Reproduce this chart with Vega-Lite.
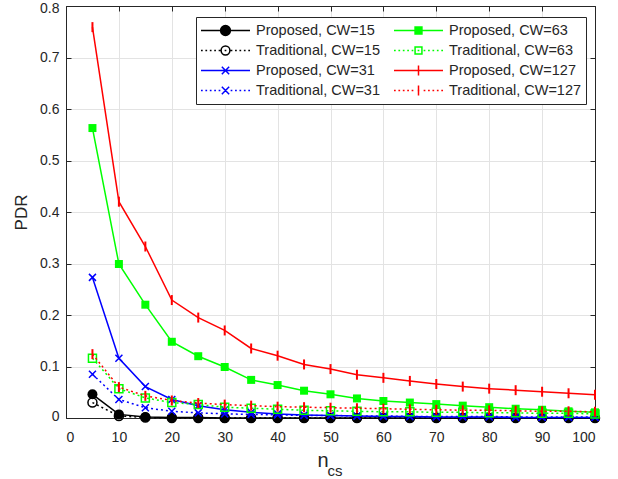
{
  "$schema": "https://vega.github.io/schema/vega-lite/v6.json",
  "width": 529,
  "height": 412,
  "autosize": {"type": "none"},
  "padding": {"left": 66, "top": 6, "right": 23, "bottom": 61},
  "background": "white",
  "config": {
    "view": {"stroke": "#262626", "strokeWidth": 1},
    "font": "Liberation Sans",
    "axis": {"labelFont": "Liberation Sans", "titleFont": "Liberation Sans", "labelColor": "#262626", "titleColor": "#262626", "domainColor": "#262626", "tickColor": "#262626", "titleFontWeight": "normal"}
  },
  "data": {"values": [
    {"n":5,"pdr":0.046,"s":"Proposed, CW=15"},{"n":10,"pdr":0.007,"s":"Proposed, CW=15"},{"n":15,"pdr":0.002,"s":"Proposed, CW=15"},{"n":20,"pdr":0.001,"s":"Proposed, CW=15"},{"n":25,"pdr":0.001,"s":"Proposed, CW=15"},{"n":30,"pdr":0,"s":"Proposed, CW=15"},{"n":35,"pdr":0,"s":"Proposed, CW=15"},{"n":40,"pdr":0,"s":"Proposed, CW=15"},{"n":45,"pdr":0,"s":"Proposed, CW=15"},{"n":50,"pdr":0,"s":"Proposed, CW=15"},{"n":55,"pdr":0,"s":"Proposed, CW=15"},{"n":60,"pdr":0,"s":"Proposed, CW=15"},{"n":65,"pdr":0,"s":"Proposed, CW=15"},{"n":70,"pdr":0,"s":"Proposed, CW=15"},{"n":75,"pdr":0,"s":"Proposed, CW=15"},{"n":80,"pdr":0,"s":"Proposed, CW=15"},{"n":85,"pdr":0,"s":"Proposed, CW=15"},{"n":90,"pdr":0,"s":"Proposed, CW=15"},{"n":95,"pdr":0,"s":"Proposed, CW=15"},{"n":100,"pdr":0,"s":"Proposed, CW=15"},
    {"n":5,"pdr":0.03,"s":"Traditional, CW=15"},{"n":10,"pdr":0.004,"s":"Traditional, CW=15"},{"n":15,"pdr":0.001,"s":"Traditional, CW=15"},{"n":20,"pdr":0,"s":"Traditional, CW=15"},{"n":25,"pdr":0,"s":"Traditional, CW=15"},{"n":30,"pdr":0,"s":"Traditional, CW=15"},{"n":35,"pdr":0,"s":"Traditional, CW=15"},{"n":40,"pdr":0,"s":"Traditional, CW=15"},{"n":45,"pdr":0,"s":"Traditional, CW=15"},{"n":50,"pdr":0,"s":"Traditional, CW=15"},{"n":55,"pdr":0,"s":"Traditional, CW=15"},{"n":60,"pdr":0,"s":"Traditional, CW=15"},{"n":65,"pdr":0,"s":"Traditional, CW=15"},{"n":70,"pdr":0,"s":"Traditional, CW=15"},{"n":75,"pdr":0,"s":"Traditional, CW=15"},{"n":80,"pdr":0,"s":"Traditional, CW=15"},{"n":85,"pdr":0,"s":"Traditional, CW=15"},{"n":90,"pdr":0,"s":"Traditional, CW=15"},{"n":95,"pdr":0,"s":"Traditional, CW=15"},{"n":100,"pdr":0,"s":"Traditional, CW=15"},
    {"n":5,"pdr":0.273,"s":"Proposed, CW=31"},{"n":10,"pdr":0.116,"s":"Proposed, CW=31"},{"n":15,"pdr":0.061,"s":"Proposed, CW=31"},{"n":20,"pdr":0.036,"s":"Proposed, CW=31"},{"n":25,"pdr":0.024,"s":"Proposed, CW=31"},{"n":30,"pdr":0.016,"s":"Proposed, CW=31"},{"n":35,"pdr":0.011,"s":"Proposed, CW=31"},{"n":40,"pdr":0.008,"s":"Proposed, CW=31"},{"n":45,"pdr":0.006,"s":"Proposed, CW=31"},{"n":50,"pdr":0.005,"s":"Proposed, CW=31"},{"n":55,"pdr":0.004,"s":"Proposed, CW=31"},{"n":60,"pdr":0.003,"s":"Proposed, CW=31"},{"n":65,"pdr":0.003,"s":"Proposed, CW=31"},{"n":70,"pdr":0.002,"s":"Proposed, CW=31"},{"n":75,"pdr":0.002,"s":"Proposed, CW=31"},{"n":80,"pdr":0.002,"s":"Proposed, CW=31"},{"n":85,"pdr":0.001,"s":"Proposed, CW=31"},{"n":90,"pdr":0.001,"s":"Proposed, CW=31"},{"n":95,"pdr":0.001,"s":"Proposed, CW=31"},{"n":100,"pdr":0.001,"s":"Proposed, CW=31"},
    {"n":5,"pdr":0.085,"s":"Traditional, CW=31"},{"n":10,"pdr":0.036,"s":"Traditional, CW=31"},{"n":15,"pdr":0.02,"s":"Traditional, CW=31"},{"n":20,"pdr":0.013,"s":"Traditional, CW=31"},{"n":25,"pdr":0.01,"s":"Traditional, CW=31"},{"n":30,"pdr":0.008,"s":"Traditional, CW=31"},{"n":35,"pdr":0.007,"s":"Traditional, CW=31"},{"n":40,"pdr":0.006,"s":"Traditional, CW=31"},{"n":45,"pdr":0.005,"s":"Traditional, CW=31"},{"n":50,"pdr":0.005,"s":"Traditional, CW=31"},{"n":55,"pdr":0.004,"s":"Traditional, CW=31"},{"n":60,"pdr":0.004,"s":"Traditional, CW=31"},{"n":65,"pdr":0.003,"s":"Traditional, CW=31"},{"n":70,"pdr":0.003,"s":"Traditional, CW=31"},{"n":75,"pdr":0.003,"s":"Traditional, CW=31"},{"n":80,"pdr":0.003,"s":"Traditional, CW=31"},{"n":85,"pdr":0.002,"s":"Traditional, CW=31"},{"n":90,"pdr":0.002,"s":"Traditional, CW=31"},{"n":95,"pdr":0.002,"s":"Traditional, CW=31"},{"n":100,"pdr":0.002,"s":"Traditional, CW=31"},
    {"n":5,"pdr":0.563,"s":"Proposed, CW=63"},{"n":10,"pdr":0.299,"s":"Proposed, CW=63"},{"n":15,"pdr":0.22,"s":"Proposed, CW=63"},{"n":20,"pdr":0.148,"s":"Proposed, CW=63"},{"n":25,"pdr":0.12,"s":"Proposed, CW=63"},{"n":30,"pdr":0.099,"s":"Proposed, CW=63"},{"n":35,"pdr":0.074,"s":"Proposed, CW=63"},{"n":40,"pdr":0.064,"s":"Proposed, CW=63"},{"n":45,"pdr":0.053,"s":"Proposed, CW=63"},{"n":50,"pdr":0.046,"s":"Proposed, CW=63"},{"n":55,"pdr":0.038,"s":"Proposed, CW=63"},{"n":60,"pdr":0.033,"s":"Proposed, CW=63"},{"n":65,"pdr":0.03,"s":"Proposed, CW=63"},{"n":70,"pdr":0.027,"s":"Proposed, CW=63"},{"n":75,"pdr":0.024,"s":"Proposed, CW=63"},{"n":80,"pdr":0.021,"s":"Proposed, CW=63"},{"n":85,"pdr":0.018,"s":"Proposed, CW=63"},{"n":90,"pdr":0.016,"s":"Proposed, CW=63"},{"n":95,"pdr":0.013,"s":"Proposed, CW=63"},{"n":100,"pdr":0.011,"s":"Proposed, CW=63"},
    {"n":5,"pdr":0.116,"s":"Traditional, CW=63"},{"n":10,"pdr":0.057,"s":"Traditional, CW=63"},{"n":15,"pdr":0.039,"s":"Traditional, CW=63"},{"n":20,"pdr":0.03,"s":"Traditional, CW=63"},{"n":25,"pdr":0.026,"s":"Traditional, CW=63"},{"n":30,"pdr":0.021,"s":"Traditional, CW=63"},{"n":35,"pdr":0.019,"s":"Traditional, CW=63"},{"n":40,"pdr":0.017,"s":"Traditional, CW=63"},{"n":45,"pdr":0.015,"s":"Traditional, CW=63"},{"n":50,"pdr":0.014,"s":"Traditional, CW=63"},{"n":55,"pdr":0.013,"s":"Traditional, CW=63"},{"n":60,"pdr":0.012,"s":"Traditional, CW=63"},{"n":65,"pdr":0.012,"s":"Traditional, CW=63"},{"n":70,"pdr":0.011,"s":"Traditional, CW=63"},{"n":75,"pdr":0.011,"s":"Traditional, CW=63"},{"n":80,"pdr":0.01,"s":"Traditional, CW=63"},{"n":85,"pdr":0.01,"s":"Traditional, CW=63"},{"n":90,"pdr":0.009,"s":"Traditional, CW=63"},{"n":95,"pdr":0.009,"s":"Traditional, CW=63"},{"n":100,"pdr":0.008,"s":"Traditional, CW=63"},
    {"n":5,"pdr":0.759,"s":"Proposed, CW=127"},{"n":10,"pdr":0.42,"s":"Proposed, CW=127"},{"n":15,"pdr":0.333,"s":"Proposed, CW=127"},{"n":20,"pdr":0.229,"s":"Proposed, CW=127"},{"n":25,"pdr":0.195,"s":"Proposed, CW=127"},{"n":30,"pdr":0.17,"s":"Proposed, CW=127"},{"n":35,"pdr":0.135,"s":"Proposed, CW=127"},{"n":40,"pdr":0.121,"s":"Proposed, CW=127"},{"n":45,"pdr":0.104,"s":"Proposed, CW=127"},{"n":50,"pdr":0.095,"s":"Proposed, CW=127"},{"n":55,"pdr":0.084,"s":"Proposed, CW=127"},{"n":60,"pdr":0.078,"s":"Proposed, CW=127"},{"n":65,"pdr":0.072,"s":"Proposed, CW=127"},{"n":70,"pdr":0.066,"s":"Proposed, CW=127"},{"n":75,"pdr":0.061,"s":"Proposed, CW=127"},{"n":80,"pdr":0.057,"s":"Proposed, CW=127"},{"n":85,"pdr":0.054,"s":"Proposed, CW=127"},{"n":90,"pdr":0.051,"s":"Proposed, CW=127"},{"n":95,"pdr":0.048,"s":"Proposed, CW=127"},{"n":100,"pdr":0.045,"s":"Proposed, CW=127"},
    {"n":5,"pdr":0.124,"s":"Traditional, CW=127"},{"n":10,"pdr":0.06,"s":"Traditional, CW=127"},{"n":15,"pdr":0.043,"s":"Traditional, CW=127"},{"n":20,"pdr":0.034,"s":"Traditional, CW=127"},{"n":25,"pdr":0.029,"s":"Traditional, CW=127"},{"n":30,"pdr":0.026,"s":"Traditional, CW=127"},{"n":35,"pdr":0.024,"s":"Traditional, CW=127"},{"n":40,"pdr":0.022,"s":"Traditional, CW=127"},{"n":45,"pdr":0.021,"s":"Traditional, CW=127"},{"n":50,"pdr":0.02,"s":"Traditional, CW=127"},{"n":55,"pdr":0.019,"s":"Traditional, CW=127"},{"n":60,"pdr":0.018,"s":"Traditional, CW=127"},{"n":65,"pdr":0.017,"s":"Traditional, CW=127"},{"n":70,"pdr":0.016,"s":"Traditional, CW=127"},{"n":75,"pdr":0.015,"s":"Traditional, CW=127"},{"n":80,"pdr":0.015,"s":"Traditional, CW=127"},{"n":85,"pdr":0.014,"s":"Traditional, CW=127"},{"n":90,"pdr":0.013,"s":"Traditional, CW=127"},{"n":95,"pdr":0.013,"s":"Traditional, CW=127"},{"n":100,"pdr":0.012,"s":"Traditional, CW=127"}
  ]},
  "encoding": {
    "x": {"field": "n", "type": "quantitative", "scale": {"domain": [0, 100], "nice": false}, "axis": null},
    "y": {"field": "pdr", "type": "quantitative", "scale": {"domain": [0, 0.8], "nice": false}, "axis": null}
  },
  "resolve": {"axis": {"x": "independent", "y": "independent"}},
  "layer": [
    {
      "transform": [{"filter": "datum.s === 'Proposed, CW=15'"}],
      "mark": {"type": "line", "color": "#000000", "strokeWidth": 1.5},
      "encoding": {
        "x": {"field": "n", "type": "quantitative", "scale": {"domain": [0, 100], "nice": false},
          "axis": {"orient": "bottom", "values": [0,10,20,30,40,50,60,70,80,90,100], "grid": true, "gridColor": "#e3e3e3", "gridWidth": 1, "tickSize": -5, "labelPadding": 17, "labelFontSize": 14, "domainWidth": 1, "title": "n", "titleFontSize": 20, "titleX": 256.5, "titleY": 48.7, "titleAlign": "center", "titleBaseline": "alphabetic"}},
        "y": {"field": "pdr", "type": "quantitative", "scale": {"domain": [0, 0.8], "nice": false},
          "axis": {"orient": "left", "values": [0,0.1,0.2,0.3,0.4,0.5,0.6,0.7,0.8], "format": "~g", "grid": true, "gridColor": "#e3e3e3", "gridWidth": 1, "tickSize": -5, "labelPadding": 12, "labelFontSize": 14, "labelFlush": true, "labelFlushOffset": 5, "domainWidth": 1, "title": "PDR", "titleFontSize": 17, "titleX": -40, "titleY": 206, "titleAngle": -90, "titleAlign": "center", "titleBaseline": "alphabetic"}}
      }
    },
    {"transform": [{"filter": "datum.s === 'Proposed, CW=15'"}], "mark": {"type": "point", "shape": "circle", "filled": true, "color": "#000000", "size": 100, "opacity": 1}},
    {"transform": [{"filter": "datum.s === 'Traditional, CW=15'"}], "mark": {"type": "line", "color": "#000000", "strokeWidth": 1.5, "strokeDash": [2, 3]}},
    {"transform": [{"filter": "datum.s === 'Traditional, CW=15'"}], "mark": {"type": "point", "shape": "circle", "filled": false, "color": "#000000", "size": 81, "strokeWidth": 1.5, "opacity": 1}},
    {"transform": [{"filter": "datum.s === 'Proposed, CW=31'"}], "mark": {"type": "line", "color": "#0000ff", "strokeWidth": 1.5}},
    {"transform": [{"filter": "datum.s === 'Traditional, CW=31'"}], "mark": {"type": "line", "color": "#0000ff", "strokeWidth": 1.5, "strokeDash": [2, 3]}},
    {"transform": [{"filter": "datum.s === 'Proposed, CW=31' || datum.s === 'Traditional, CW=31'"}], "mark": {"type": "point", "shape": "M-1,-1L1,1M-1,1L1,-1", "filled": false, "color": "#0000ff", "size": 49, "strokeWidth": 1.5, "opacity": 1}},
    {"transform": [{"filter": "datum.s === 'Proposed, CW=63'"}], "mark": {"type": "line", "color": "#00ff00", "strokeWidth": 1.5}},
    {"transform": [{"filter": "datum.s === 'Proposed, CW=63'"}], "mark": {"type": "point", "shape": "square", "filled": true, "color": "#00ff00", "size": 64, "opacity": 1}},
    {"transform": [{"filter": "datum.s === 'Traditional, CW=63'"}], "mark": {"type": "line", "color": "#00ff00", "strokeWidth": 1.5, "strokeDash": [2, 3]}},
    {"transform": [{"filter": "datum.s === 'Traditional, CW=63'"}], "mark": {"type": "point", "shape": "square", "filled": false, "color": "#00ff00", "size": 64, "strokeWidth": 1.5, "opacity": 1}},
    {"transform": [{"filter": "datum.s === 'Proposed, CW=127'"}], "mark": {"type": "line", "color": "#ff0000", "strokeWidth": 1.5}},
    {"transform": [{"filter": "datum.s === 'Traditional, CW=127'"}], "mark": {"type": "line", "color": "#ff0000", "strokeWidth": 1.5, "strokeDash": [2, 3]}},
    {"transform": [{"filter": "datum.s === 'Proposed, CW=127' || datum.s === 'Traditional, CW=127'"}], "mark": {"type": "point", "shape": "M0,-1L0,1", "filled": false, "color": "#ff0000", "size": 100, "strokeWidth": 2, "opacity": 1}},
    {
      "transform": [{"filter": "datum.n === 5"}],
      "mark": {"type": "point", "size": 0},
      "encoding": {
        "x": {"field": "n", "type": "quantitative", "scale": {"domain": [0, 100], "nice": false},
          "axis": {"orient": "top", "values": [0,10,20,30,40,50,60,70,80,90,100], "labels": false, "grid": false, "tickSize": -5, "domainWidth": 1, "title": "cs", "titleFontSize": 15, "titleX": 261, "titleY": 469, "titleAlign": "left", "titleBaseline": "alphabetic"}},
        "y": {"field": "pdr", "type": "quantitative", "scale": {"domain": [0, 0.8], "nice": false},
          "axis": {"orient": "right", "values": [0,0.1,0.2,0.3,0.4,0.5,0.6,0.7,0.8], "labels": false, "grid": false, "tickSize": -5, "domainWidth": 1, "title": null}},
        "shape": {"field": "s", "type": "nominal",
          "scale": {"domain": ["Proposed, CW=15", "Traditional, CW=15", "Proposed, CW=31", "Traditional, CW=31", "Proposed, CW=63", "Traditional, CW=63", "Proposed, CW=127", "Traditional, CW=127"],
            "range": [
              "M-1,0L1,0M-0.2,0A0.2,0.2,0,1,0,0.2,0A0.2,0.2,0,1,0,-0.2,0Z",
              "M-1,0L-0.93,0M-0.82,0L-0.75,0M-0.64,0L-0.57,0M-0.46,0L-0.39,0M-0.28,0L-0.21,0M-0.035,0L0.035,0M0.21,0L0.28,0M0.39,0L0.46,0M0.57,0L0.64,0M0.75,0L0.82,0M0.93,0L1,0M-0.18,0A0.18,0.18,0,1,0,0.18,0A0.18,0.18,0,1,0,-0.18,0Z",
              "M-1,0L1,0M-0.15,-0.15L0.15,0.15M-0.15,0.15L0.15,-0.15",
              "M-1,0L-0.93,0M-0.82,0L-0.75,0M-0.64,0L-0.57,0M-0.46,0L-0.39,0M-0.28,0L-0.21,0M-0.035,0L0.035,0M0.21,0L0.28,0M0.39,0L0.46,0M0.57,0L0.64,0M0.75,0L0.82,0M0.93,0L1,0M-0.15,-0.15L0.15,0.15M-0.15,0.15L0.15,-0.15",
              "M-1,0L1,0M-0.14,-0.14L0.14,-0.14L0.14,0.14L-0.14,0.14Z",
              "M-1,0L-0.93,0M-0.82,0L-0.75,0M-0.64,0L-0.57,0M-0.46,0L-0.39,0M-0.28,0L-0.21,0M-0.035,0L0.035,0M0.21,0L0.28,0M0.39,0L0.46,0M0.57,0L0.64,0M0.75,0L0.82,0M0.93,0L1,0M-0.14,-0.14L0.14,-0.14L0.14,0.14L-0.14,0.14Z",
              "M-1,0L1,0M0,-0.2L0,0.2",
              "M-1,0L-0.93,0M-0.82,0L-0.75,0M-0.64,0L-0.57,0M-0.46,0L-0.39,0M-0.28,0L-0.21,0M-0.035,0L0.035,0M0.21,0L0.28,0M0.39,0L0.46,0M0.57,0L0.64,0M0.75,0L0.82,0M0.93,0L1,0M0,-0.2L0,0.2"
            ]},
          "legend": {"title": null, "orient": "none", "legendX": 130, "legendY": 11, "columns": 2, "columnPadding": 13, "rowPadding": 1, "clipHeight": 19, "padding": 4, "strokeColor": "#262626", "fillColor": "white", "labelFont": "Liberation Sans", "labelFontSize": 14.5, "labelColor": "#262626", "labelOffset": 5, "symbolSize": 2401, "symbolStrokeWidth": 1.5, "symbolOpacity": 1}},
        "fill": {"field": "s", "type": "nominal",
          "scale": {"domain": ["Proposed, CW=15", "Traditional, CW=15", "Proposed, CW=31", "Traditional, CW=31", "Proposed, CW=63", "Traditional, CW=63", "Proposed, CW=127", "Traditional, CW=127"],
            "range": ["#000000", "transparent", "transparent", "transparent", "#00ff00", "transparent", "transparent", "transparent"]},
          "legend": {"title": null}},
        "stroke": {"field": "s", "type": "nominal",
          "scale": {"domain": ["Proposed, CW=15", "Traditional, CW=15", "Proposed, CW=31", "Traditional, CW=31", "Proposed, CW=63", "Traditional, CW=63", "Proposed, CW=127", "Traditional, CW=127"],
            "range": ["#000000", "#000000", "#0000ff", "#0000ff", "#00ff00", "#00ff00", "#ff0000", "#ff0000"]},
          "legend": {"title": null}}
      }
    }
  ]
}
